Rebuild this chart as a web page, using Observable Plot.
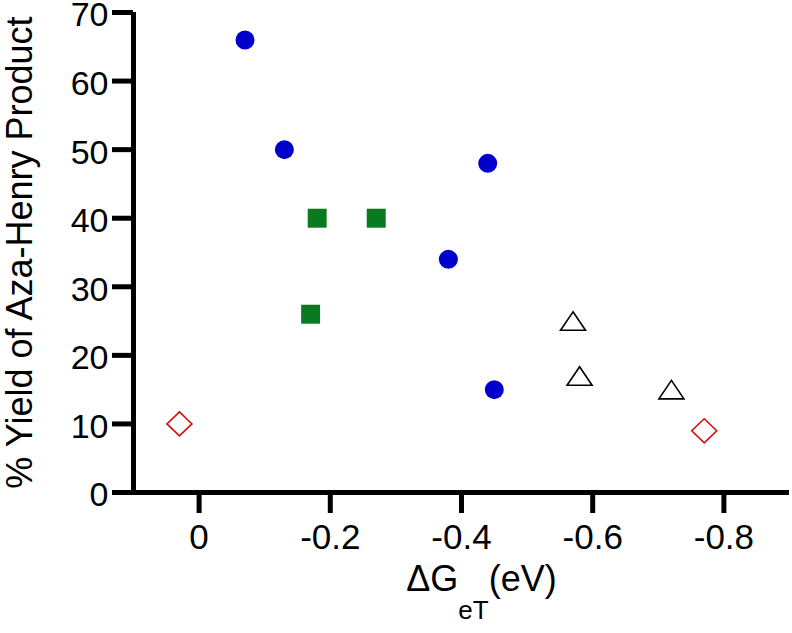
<!DOCTYPE html>
<html><head><meta charset="utf-8">
<script src="https://cdn.jsdelivr.net/npm/d3@7"></script>
<script src="https://cdn.jsdelivr.net/npm/@observablehq/plot@0.6"></script>
<style>html,body{margin:0;padding:0;background:#fff} svg{display:block}</style>
</head><body><div id="chart"></div>
<script>
// Data
const circleX = [-0.07, -0.13, -0.44, -0.38, -0.45];
const circleY = [66, 50, 48, 34, 15];
const squareX = [-0.18, -0.27, -0.17];
const squareY = [40, 40, 26];
const triangleX = [-0.57, -0.58, -0.72];
const triangleY = [25, 17, 15];
const diamondX = [0.03, -0.77];
const diamondY = [10, 9];
const xTicks = [0, -0.2, -0.4, -0.6, -0.8];
const yTicks = [0, 10, 20, 30, 40, 50, 60, 70];
const xDomain = [0.1, -0.9];
const yDomain = [0, 70];

const toRows = (xs, ys) => xs.map((x, i) => ({x, y: ys[i]}));
const circles = toRows(circleX, circleY);
const squares = toRows(squareX, squareY);
const triangles = toRows(triangleX, triangleY);
const diamonds = toRows(diamondX, diamondY);

const triangleSym = {draw(ctx) { const w = 12.5, h = 9.25; ctx.moveTo(0, -h); ctx.lineTo(w, h); ctx.lineTo(-w, h); ctx.closePath(); }};
const diamondSym = {draw(ctx) { const a = 12.5, b = 12; ctx.moveTo(0, -b); ctx.lineTo(a, 0); ctx.lineTo(0, b); ctx.lineTo(-a, 0); ctx.closePath(); }};

const fmt = d => d === 0 ? "0" : String(d);

const chart = Plot.plot({
  width: 792,
  height: 633,
  marginLeft: 133,
  marginRight: 3,
  marginTop: 12,
  marginBottom: 141,
  style: {fontFamily: "'Liberation Sans', Arial, Helvetica, sans-serif", fontSize: "35px", color: "#000", background: "#fff"},
  x: {domain: xDomain, ticks: xTicks},
  y: {domain: yDomain, ticks: yTicks},
  marks: [
    // y ticks (lines only)
    Plot.axisY({ticks: yTicks, tickSize: 21, strokeWidth: 5, text: null, label: null}),
    // y tick labels + axis title
    Plot.axisY({ticks: yTicks, tickSize: 0, tickPadding: 25, fontSize: 34, dy: 3,
      label: "% Yield of Aza-Henry Product", labelAnchor: "center", labelOffset: 127, labelArrow: false}),
    Plot.axisX({ticks: xTicks, tickFormat: fmt, tickSize: 21, strokeWidth: 5, tickPadding: 11, fontSize: 35,
      label: "ΔGeT(eV)", labelAnchor: "center", labelOffset: 98, labelArrow: false}),
    Plot.ruleY([0], {stroke: "#000", strokeWidth: 5}),
    Plot.ruleX([xDomain[0]], {y1: yDomain[0], y2: yDomain[1], stroke: "#000", strokeWidth: 5}),
    Plot.dot(circles, {x: "x", y: "y", r: 9.5, symbol: "circle", fill: "#0000cc", stroke: "none"}),
    Plot.dot(squares, {x: "x", y: "y", r: 10.7, symbol: "square", fill: "#0a7a20", stroke: "none"}),
    Plot.dot(triangles, {x: "x", y: "y", symbol: triangleSym, fill: "#fff", stroke: "#000", strokeWidth: 1.6}),
    Plot.dot(diamonds, {x: "x", y: "y", symbol: diamondSym, fill: "#fff", stroke: "#cc1111", strokeWidth: 1.6})
  ]
});
document.getElementById("chart").appendChild(chart);

// Style the axis labels and build the x-axis label with a subscript
const ylab = chart.querySelector('g[aria-label="y-axis label"] text');
if (ylab) ylab.setAttribute("font-size", "36px");
const lab = chart.querySelector('g[aria-label="x-axis label"] text');
if (lab) {
  lab.textContent = "";
  lab.setAttribute("font-size", "36px");
  lab.setAttribute("dx", "20");
  const ns = "http://www.w3.org/2000/svg";
  const t1 = document.createElementNS(ns, "tspan"); t1.textContent = "ΔG";
  const t2 = document.createElementNS(ns, "tspan"); t2.textContent = "eT"; t2.setAttribute("dy", "28"); t2.setAttribute("font-size", "26px");
  const t3 = document.createElementNS(ns, "tspan"); t3.textContent = "(eV)"; t3.setAttribute("dy", "-28");
  lab.append(t1, t2, t3);
}
</script>
</body></html>
